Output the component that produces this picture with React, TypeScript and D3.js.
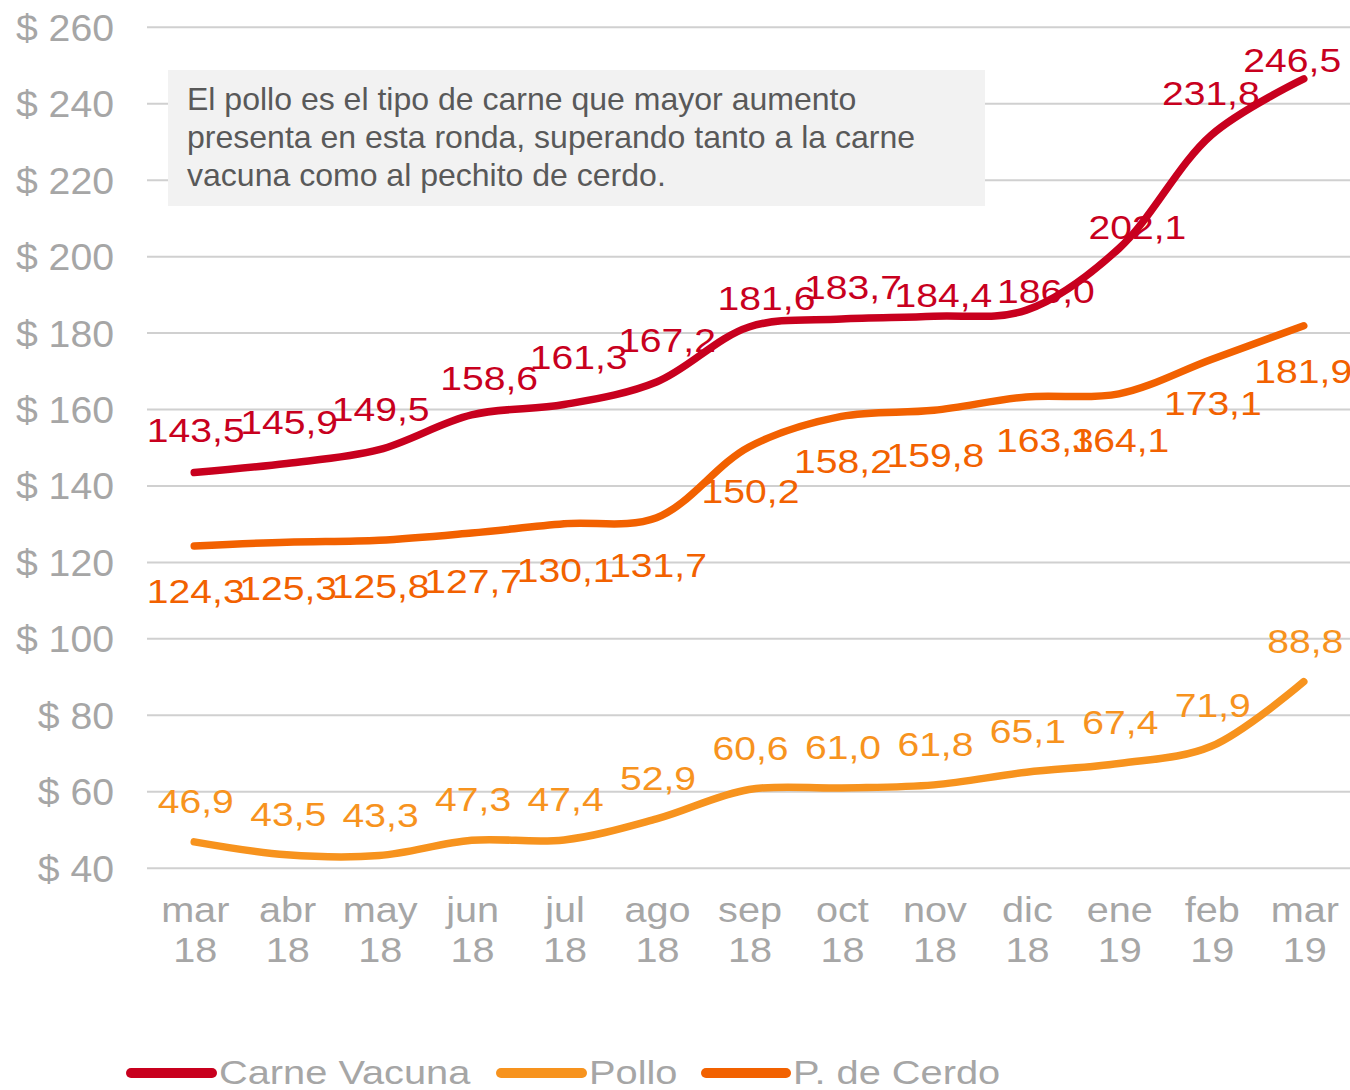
import React from "react";
import * as d3 from "d3";

const months = ["mar 18", "abr 18", "may 18", "jun 18", "jul 18", "ago 18", "sep 18", "oct 18", "nov 18", "dic 18", "ene 19", "feb 19", "mar 19"];
const carneVacuna = [143.5, 145.9, 149.5, 158.6, 161.3, 167.2, 181.6, 183.7, 184.4, 186.0, 202.1, 231.8, 246.5];
const pollo = [46.9, 43.5, 43.3, 47.3, 47.4, 52.9, 60.6, 61.0, 61.8, 65.1, 67.4, 71.9, 88.8];
const cerdo = [124.3, 125.3, 125.8, 127.7, 130.1, 131.7, 150.2, 158.2, 159.8, 163.3, 164.1, 173.1, 181.9];
const yTicks = [40, 60, 80, 100, 120, 140, 160, 180, 200, 220, 240, 260];
const seriesNames = ["Carne Vacuna", "Pollo", "P. de Cerdo"];
const note = [
  "El pollo es el tipo de carne que mayor aumento",
  "presenta en esta ronda, superando tanto a la carne",
  "vacuna como al pechito de cerdo.",
];

// label nudges (styling only)
const vacunaNudge: [number, number][] = [[0, -31], [1, -29], [0, -29], [16, -25], [13, -36], [9, -30], [16, -17], [10, -20], [8, -9], [18, -7], [17, -10], [-2, -30], [-13, -7]];
const cerdoNudge: [number, number][] = [[0, 57], [0, 58], [0, 58], [0, 60], [0, 58], [0, 59], [0, 56], [0, 57], [0, 57], [17, 55], [0, 58], [0, 56], [-2, 57]];
const polloNudge: [number, number][] = months.map(() => [0, -29]);

const COLORS = ["#c8001e", "#f7931e", "#f26100"];
const FONT = "'Liberation Sans', Arial, sans-serif";

const fmt = (v: number) => v.toFixed(1).replace(".", ",");

function SText(props: { x: number; y: number; sx: number; anchor?: string; size: number; fill: string; children: React.ReactNode }) {
  const { x, y, sx, anchor, size, fill, children } = props;
  return (
    <text transform={`translate(${x},${y}) scale(${sx},1)`} textAnchor={anchor || "start"} fontSize={size} fill={fill}>
      {children}
    </text>
  );
}

export default function App() {
  const W = 1350, H = 1090;
  const x = d3.scalePoint<string>().domain(months).range([148, 1350]).padding(0.5);
  const y = d3.scaleLinear().domain([40, 260]).range([868.2, 27.3]);
  const line = d3
    .line<number>()
    .x((_, i) => x(months[i]) as number)
    .y((d) => y(d))
    .curve(d3.curveCatmullRom.alpha(0.5));

  const series = [
    { name: seriesNames[0], values: carneVacuna, color: COLORS[0], nudge: vacunaNudge },
    { name: seriesNames[1], values: pollo, color: COLORS[1], nudge: polloNudge },
    { name: seriesNames[2], values: cerdo, color: COLORS[2], nudge: cerdoNudge },
  ];

  const legend = [
    { x1: 131, x2: 212, tx: 219 },
    { x1: 501, x2: 582, tx: 589 },
    { x1: 706, x2: 786, tx: 793 },
  ];

  return (
    <svg width={W} height={H} style={{ position: "absolute", left: 0, top: 0, background: "#fff" }} fontFamily={FONT}>
      {yTicks.map((t) => (
        <g key={t}>
          <line x1={147} x2={1350} y1={y(t)} y2={y(t)} stroke="#d0d0d0" strokeWidth={2} />
          <SText x={114} y={y(t) + 13.5} sx={1.06} anchor="end" size={37} fill="#a6a6a6">
            {"$ " + t}
          </SText>
        </g>
      ))}
      {months.map((m, i) => {
        const [a, b] = m.split(" ");
        const cx = (x(m) as number) + 1;
        return (
          <g key={m + i}>
            <SText x={cx} y={922} sx={1.1} anchor="middle" size={36} fill="#a6a6a6">{a}</SText>
            <SText x={cx} y={962} sx={1.1} anchor="middle" size={36} fill="#a6a6a6">{b}</SText>
          </g>
        );
      })}
      <rect x={168} y={70} width={817} height={136} fill="#f2f2f2" />
      {note.map((l, i) => (
        <SText key={i} x={187} y={110 + i * 38} sx={1.05} size={30.5} fill="#595959">
          {l}
        </SText>
      ))}
      {series.map((s) =>
        s.values.map((v, i) => (
          <SText
            key={s.name + i}
            x={(x(months[i]) as number) + s.nudge[i][0] + 1.5}
            y={y(v) + s.nudge[i][1]}
            sx={1.15}
            anchor="middle"
            size={34}
            fill={s.color}
          >
            {fmt(v)}
          </SText>
        ))
      )}
      {series.map((s) => (
        <path key={s.name} d={line(s.values) || ""} fill="none" stroke={s.color} strokeWidth={7.5} strokeLinecap="round" strokeLinejoin="round" />
      ))}
      {series.map((s, i) => (
        <g key={"lg" + i}>
          <line x1={legend[i].x1} x2={legend[i].x2} y1={1073} y2={1073} stroke={s.color} strokeWidth={10} strokeLinecap="round" />
          <SText x={legend[i].tx} y={1084} sx={1.17} size={34} fill="#a6a6a6">
            {s.name}
          </SText>
        </g>
      ))}
    </svg>
  );
}
